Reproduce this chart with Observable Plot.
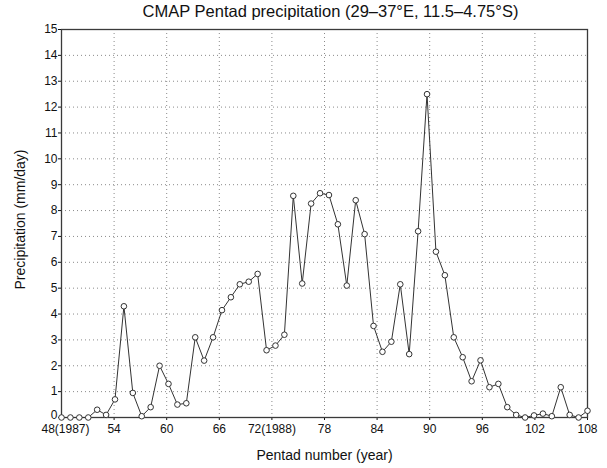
<!DOCTYPE html>
<html><head><meta charset="utf-8">
<script src="https://cdn.jsdelivr.net/npm/d3@7"></script>
<script src="https://cdn.jsdelivr.net/npm/@observablehq/plot@0.6"></script>
<style>
body{margin:0;background:#fff;font-family:"Liberation Sans",Arial,sans-serif;}
#wrap{position:relative;width:607px;height:468px;overflow:hidden;background:#fff}
#title{position:absolute;left:54px;width:553px;top:0;height:22px;line-height:22px;text-align:center;font-size:16.5px;color:#111;white-space:nowrap}
#chart{position:absolute;left:0;top:22px;width:607px;height:446px}
#chart svg{position:absolute;left:0;top:0}
</style></head><body>
<div id="wrap"><div id="title">CMAP Pentad precipitation (29–37°E, 11.5–4.75°S)</div><div id="chart"></div></div>
<script>
// 60 pentads, pentad 48 of 1987 onward
const pentads = [48,49,50,51,52,53,54,55,56,57,58,59,60,61,62,63,64,65,66,67,
                 68,69,70,71,72,73,74,75,76,77,78,79,80,81,82,83,84,85,86,87,
                 88,89,90,91,92,93,94,95,96,97,98,99,100,101,102,103,104,105,106,107];
const precip = [0,0,0,0,0.3,0.1,0.7,4.3,0.95,0.05,0.4,2.0,1.3,0.5,0.55,3.1,2.2,3.1,4.15,4.65,
                5.15,5.25,5.55,2.6,2.78,3.2,8.57,5.18,8.27,8.67,8.6,7.47,5.1,8.4,7.09,3.54,2.54,2.93,5.15,2.45,
                7.2,12.5,6.41,5.5,3.1,2.33,1.4,2.21,1.17,1.3,0.4,0.1,0.0,0.08,0.15,0.05,1.17,0.1,0,0.26];
const xTicks = [48,54,60,66,72,78,84,90,96,102,108];
const xTickLabels = ["48(1987)","54","60","66","72(1988)","78","84","90","96","102","108"];
const yTicks = [0,1,2,3,4,5,6,7,8,9,10,11,12,13,14,15];
const xTitle = "Pentad number (year)";
const yTitle = "Precipitation (mm/day)";

const data = pentads.map((p, i) => ({pentad: p, precip: precip[i]}));
const labelOf = new Map(xTicks.map((t, i) => [t, xTickLabels[i]]));
const W = 607, H = 446;
const M = {marginTop: 7, marginRight: 20, marginBottom: 51, marginLeft: 61};
const font = "'Liberation Sans', Arial, sans-serif";
const firstX = xTicks[0], firstY = yTicks[0];

// Axes, grid and frame (axis runs 48–108)
const frameChart = Plot.plot({
  width: W, height: H, ...M,
  style: {fontFamily: font, fontSize: "12px", color: "#111", background: "transparent"},
  x: {domain: [48, 108]},
  y: {domain: [0, 15]},
  marks: [
    Plot.gridX(xTicks.slice(1, -1), {stroke: "#8a8a8a", strokeOpacity: 1, strokeDasharray: "1,3"}),
    Plot.gridY(yTicks.slice(1, -1), {stroke: "#8a8a8a", strokeOpacity: 1, strokeDasharray: "1,3"}),
    Plot.axisX(xTicks, {tickFormat: d => d === firstX ? "" : labelOf.get(d), tickSize: 3, tickPadding: 4, label: null, fontSize: 12}),
    Plot.axisX([firstX], {tickFormat: d => labelOf.get(d), tickSize: 0, tickPadding: 7, dx: 4, label: null, fontSize: 12}),
    Plot.axisY(yTicks, {tickFormat: d => d === firstY ? "" : d, tickSize: 3, tickPadding: 1, label: null, fontSize: 12}),
    Plot.axisY([firstY], {tickSize: 0, tickPadding: 4, dy: -2.5, label: null, fontSize: 12}),
    Plot.frame({stroke: "#3a3a3a", strokeWidth: 1.3}),
    Plot.text([xTitle], {text: d => d, frameAnchor: "bottom", dy: 38, fontSize: 14, lineAnchor: "middle"}),
    Plot.text([yTitle], {text: d => d, frameAnchor: "left", dx: -41, dy: -4, rotate: -90, fontSize: 14, textAnchor: "middle", lineAnchor: "middle"})
  ]
});

// Data series: the 60 pentads span the full width of the frame
const dataChart = Plot.plot({
  width: W, height: H, ...M,
  style: {background: "transparent"},
  x: {axis: null},
  y: {domain: [0, 15], axis: null},
  marks: [
    Plot.line(data, {x: "pentad", y: "precip", stroke: "#333", strokeWidth: 1}),
    Plot.dot(data, {x: "pentad", y: "precip", r: 2.8, fill: "white", stroke: "#333", strokeWidth: 1})
  ]
});

const host = document.getElementById("chart");
host.appendChild(frameChart);
host.appendChild(dataChart);
</script>
</body></html>
